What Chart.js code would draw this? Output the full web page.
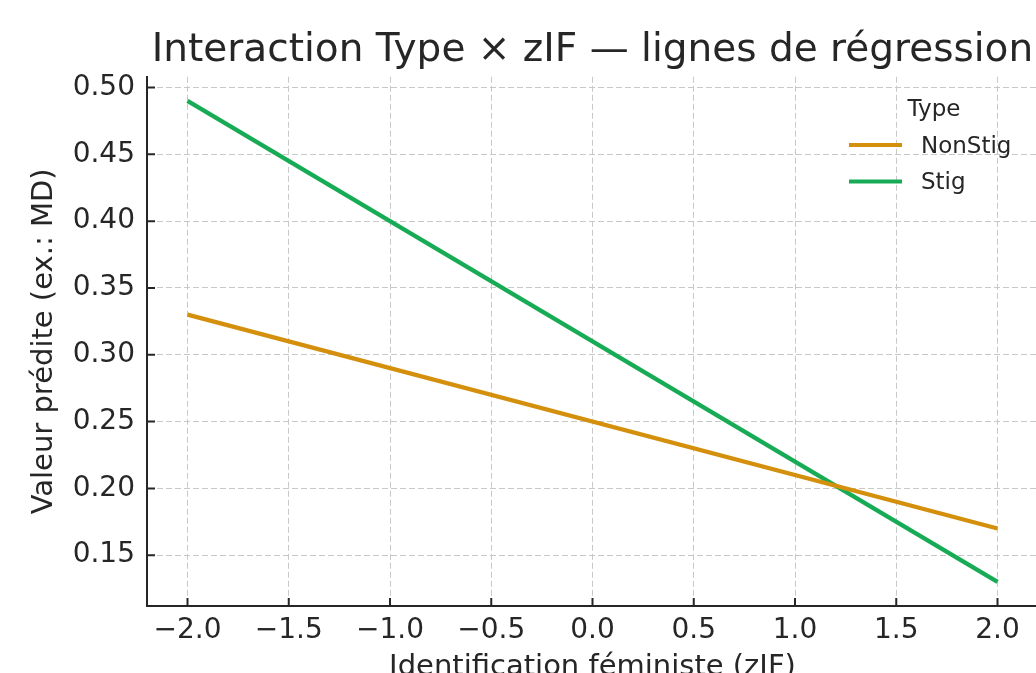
<!DOCTYPE html>
<html><head><meta charset="utf-8">
<script src="https://cdn.jsdelivr.net/npm/chart.js@4.4.1/dist/chart.umd.min.js"></script>
<style>
html,body{margin:0;padding:0;overflow:hidden;background:#fff;width:1036px;height:673px}
#wrap{position:absolute;left:0;top:0;width:1040px;height:700px}
canvas{display:block}
</style>
</head><body><div id="wrap"><canvas id="c" width="1040" height="700" style="width:1040px;height:700px"></canvas></div>
<script>
// ---- data ----
const zIF = [-2.0, 2.0];
const nonStig = [0.33, 0.17];
const stig = [0.49, 0.13];
const seriesNames = ['NonStig', 'Stig'];
const seriesColors = ['#D4900C', '#17AB55'];
const xTicks = [-2.0, -1.5, -1.0, -0.5, 0.0, 0.5, 1.0, 1.5, 2.0];
const yTicks = [0.15, 0.20, 0.25, 0.30, 0.35, 0.40, 0.45, 0.50];
const titleText = 'Interaction Type × zIF — lignes de régression';
const xLabel = 'Identification féministe (zIF)';
const yLabel = 'Valeur prédite (ex.: MD)';
const legendTitle = 'Type';

const FONT = '"DejaVu Sans", sans-serif';
const TXT = '#262626';

const inwardTicks = {
  id: 'inwardTicks',
  afterDatasetsDraw(chart) {
    const ctx = chart.ctx, a = chart.chartArea, xs = chart.scales.x, ys = chart.scales.y;
    ctx.save();
    ctx.strokeStyle = TXT; ctx.lineWidth = 2;
    ctx.beginPath();
    xs.ticks.forEach(t => { const p = xs.getPixelForValue(t.value); ctx.moveTo(p, a.bottom); ctx.lineTo(p, a.bottom - 8); });
    ys.ticks.forEach(t => { const p = ys.getPixelForValue(t.value); ctx.moveTo(a.left, p); ctx.lineTo(a.left + 8, p); });
    ctx.stroke();
    ctx.restore();
  }
};

const customLegend = {
  id: 'customLegend',
  afterDraw(chart) {
    const ctx = chart.ctx;
    ctx.save();
    ctx.font = '23px ' + FONT;
    ctx.fillStyle = TXT;
    ctx.textAlign = 'center'; ctx.textBaseline = 'middle';
    ctx.fillText(legendTitle, 934, 110);
    chart.data.datasets.forEach((ds, i) => {
      const yy = 145 + i * 36.5;
      ctx.strokeStyle = ds.borderColor; ctx.lineWidth = 4;
      ctx.beginPath(); ctx.moveTo(849, yy); ctx.lineTo(902, yy); ctx.stroke();
      ctx.textAlign = 'left';
      ctx.fillText(ds.label, 921, yy + 2);
    });
    ctx.restore();
  }
};

const mkData = (ys) => zIF.map((x, i) => ({x: x, y: ys[i]}));

new Chart(document.getElementById('c'), {
  type: 'line',
  data: {
    datasets: [
      {label: seriesNames[0], data: mkData(nonStig), borderColor: seriesColors[0], backgroundColor: seriesColors[0], borderWidth: 4.3, pointRadius: 0, fill: false, tension: 0},
      {label: seriesNames[1], data: mkData(stig), borderColor: seriesColors[1], backgroundColor: seriesColors[1], borderWidth: 4.3, pointRadius: 0, fill: false, tension: 0}
    ]
  },
  options: {
    responsive: false,
    animation: false,
    devicePixelRatio: 1,
    layout: {padding: {left: 0, right: 2, top: 0, bottom: 0}},
    plugins: {
      legend: {display: false},
      tooltip: {enabled: false},
      title: {display: true, fullSize: false, text: titleText, color: TXT, font: {family: FONT, size: 39, weight: 'normal'}, padding: {top: 27, bottom: 3}}
    },
    scales: {
      x: {
        type: 'linear', min: -2.2, max: 2.2,
        afterBuildTicks: s => { s.ticks = xTicks.map(v => ({value: v})); },
        afterFit: s => { s.height = 94; },
        ticks: {color: TXT, font: {family: FONT, size: 28}, padding: 8, maxRotation: 0, autoSkip: false,
          callback: v => (v < 0 ? '\u2212' : '') + Math.abs(v).toFixed(1)},
        grid: {color: '#c8c8c8', lineWidth: 1, drawTicks: false},
        border: {display: true, color: TXT, width: 2, dash: [6, 3]},
        title: {display: true, text: xLabel, color: TXT, font: {family: FONT, size: 29}, padding: {top: 0, bottom: 15}}
      },
      y: {
        type: 'linear', min: 0.112, max: 0.508,
        afterBuildTicks: s => { s.ticks = yTicks.map(v => ({value: v})); },
        afterFit: s => { s.width = 147; },
        ticks: {color: TXT, font: {family: FONT, size: 28}, padding: 12, autoSkip: false,
          callback: v => v.toFixed(2)},
        grid: {color: '#c8c8c8', lineWidth: 1, drawTicks: false},
        border: {display: true, color: TXT, width: 2, dash: [6, 3]},
        title: {display: true, text: yLabel, color: TXT, font: {family: FONT, size: 29}, padding: {top: 27, bottom: 0}}
      }
    }
  },
  plugins: [inwardTicks, customLegend]
});
</script>
</body></html>
